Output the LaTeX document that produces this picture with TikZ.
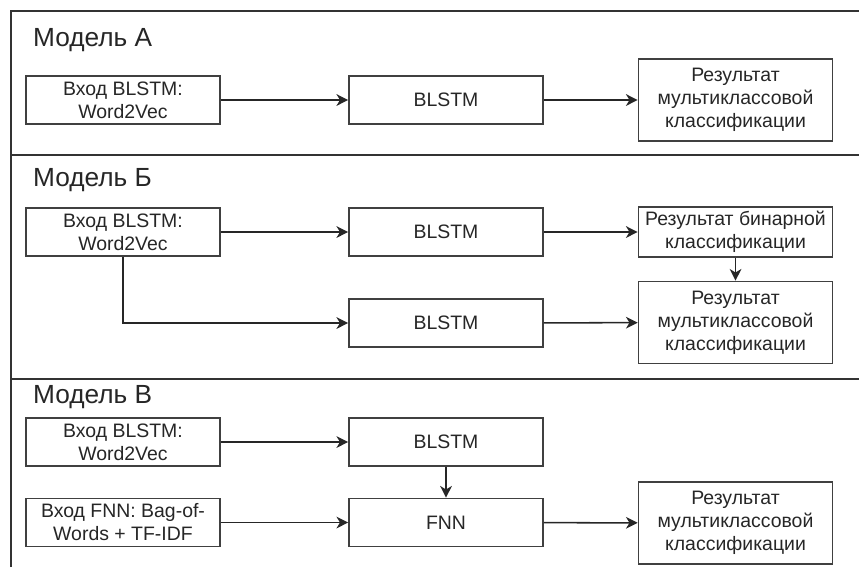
\documentclass[tikz,border=0pt]{standalone}
\usepackage{fontspec}
\setmainfont{Liberation Sans}
\usetikzlibrary{arrows.meta}

\begin{document}
\begin{tikzpicture}[x=0.3cm, y=0.3cm,
        blk/.style={draw=black!75, line width=1.4pt, minimum width=5.82cm, minimum height=1.44cm,
            align=center, inner sep=1pt, text=black!85, font=\fontsize{16.6pt}{19.6pt}\selectfont},
        res/.style={blk, minimum height=2.46cm},
        ttl/.style={anchor=base west, inner sep=0pt, text=black!85, font=\fontsize{22.4pt}{25pt}\selectfont},
        frm/.style={draw=black!80, line width=2pt},
        arr/.style={-{Stealth[length=10pt, width=10pt, inset=3pt]}, line width=1.3pt, draw=black!85}]
        \useasboundingbox (0,0) rectangle (85.9,-56.7);
        \draw[frm] (1.1,-56.7) -- (1.1,-1.1) -- (85.9,-1.1);
        \draw[frm] (1.1,-15.5) -- (85.9,-15.5);
        \draw[frm] (1.1,-37.9) -- (85.9,-37.9);

        \node[ttl] (tA) at (3.3,-4.67) {Модель А};
        \node[blk] (inA) at (12.3,-10.0) {Вход BLSTM:\\Word2Vec};
        \node[blk] (lstmA) at (44.6,-10.0) {BLSTM};
        \node[res] (resA) at (73.55,-10.0) {Результат\\мультиклассовой\\классификации};

        \node[ttl] (tB) at (3.3,-18.67) {Модель Б};
        \node[blk] (inB) at (12.3,-23.2) {Вход BLSTM:\\Word2Vec};
        \node[blk] (lstmB) at (44.6,-23.2) {BLSTM};
        \node[blk, minimum height=1.5cm] (binB) at (73.55,-23.2) {Результат бинарной\\классификации};
        \node[blk] (lstmBB) at (44.6,-32.3) {BLSTM};
        \node[res] (resB) at (73.55,-32.25) {Результат\\мультиклассовой\\классификации};

        \node[ttl] (tV) at (3.3,-40.33) {Модель В};
        \node[blk] (inV) at (12.3,-44.2) {Вход BLSTM:\\Word2Vec};
        \node[blk] (lstmV) at (44.6,-44.2) {BLSTM};
        \node[blk] (fnV) at (12.3,-52.25) {Вход FNN: Bag-of-\\Words + TF-IDF};
        \node[blk] (fnnV) at (44.6,-52.25) {FNN};
        \node[res] (resV) at (73.55,-52.3) {Результат\\мультиклассовой\\классификации};

        \draw[arr] (inA) -- (lstmA);
        \draw[arr] (lstmA) -- (resA);
        \draw[arr] (inB) -- (lstmB);
        \draw[arr] (lstmB) -- (binB);
        \draw[arr] (binB) -- (resB);
        \draw[arr] (inB.south) |- (lstmBB.west);
        \draw[arr] (lstmBB) -- (resB);
        \draw[arr] (inV) -- (lstmV);
        \draw[arr] (lstmV) -- (fnnV);
        \draw[arr] (fnV) -- (fnnV);
        \draw[arr] (fnnV) -- (resV);
    \end{tikzpicture}
\end{document}
